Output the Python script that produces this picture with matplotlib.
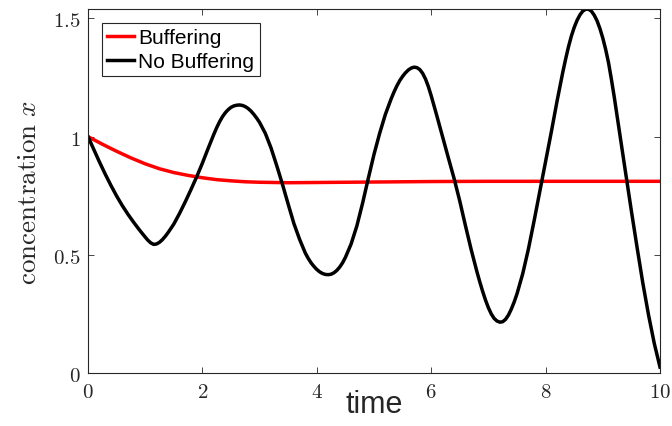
import matplotlib
matplotlib.use("Agg")
import matplotlib.pyplot as plt

plt.rcParams['mathtext.fontset'] = 'cm'

# Buffering (red)
t_buf = [0.0, 0.25, 0.5, 0.75, 1.0, 1.25, 1.5, 1.75, 2.0, 2.25, 2.5, 2.75, 3.0,
         3.5, 4.0, 5.0, 6.0, 7.0, 8.0, 9.0, 10.0]
x_buf = [1.000, 0.968, 0.938, 0.910, 0.885, 0.864, 0.848, 0.836, 0.826, 0.818,
         0.813, 0.809, 0.807, 0.805, 0.806, 0.808, 0.810, 0.811, 0.811, 0.811, 0.811]

# No Buffering (black)
t_nobuf = [0.0, 0.1, 0.2, 0.3, 0.4, 0.5, 0.6, 0.7, 0.8, 0.9,
           1.0, 1.05, 1.1, 1.15, 1.2, 1.25, 1.3, 1.35, 1.4, 1.5,
           1.6, 1.7, 1.8, 1.9, 2.0, 2.1, 2.2, 2.25, 2.3, 2.35,
           2.4, 2.45, 2.5, 2.55, 2.6, 2.65, 2.7, 2.75, 2.8, 2.85,
           2.9, 2.95, 3.0, 3.1, 3.2, 3.3, 3.4, 3.5, 3.6, 3.7,
           3.8, 3.85, 3.9, 3.95, 4.0, 4.05, 4.1, 4.15, 4.2, 4.25,
           4.3, 4.35, 4.4, 4.45, 4.5, 4.6, 4.7, 4.8, 4.9, 5.0,
           5.1, 5.2, 5.3, 5.35, 5.4, 5.45, 5.5, 5.55, 5.6, 5.65,
           5.7, 5.75, 5.8, 5.85, 5.9, 5.95, 6.0, 6.1, 6.2, 6.3,
           6.4, 6.5, 6.6, 6.7, 6.8, 6.85, 6.9, 6.95, 7.0, 7.05,
           7.1, 7.15, 7.2, 7.25, 7.3, 7.35, 7.4, 7.45, 7.5, 7.6,
           7.7, 7.8, 7.9, 8.0, 8.1, 8.2, 8.3, 8.35, 8.4, 8.45,
           8.5, 8.55, 8.6, 8.65, 8.7, 8.75, 8.8, 8.85, 8.9, 8.95,
           9.0, 9.05, 9.1, 9.15, 9.2, 9.3, 9.4, 9.5, 9.6, 9.7,
           9.8, 9.9, 10.0]
x_nobuf = [1.000, 0.946, 0.893, 0.842, 0.794, 0.749, 0.708, 0.671, 0.637, 0.605,
           0.575, 0.561, 0.550, 0.544, 0.546, 0.553, 0.564, 0.578, 0.594, 0.630,
           0.675, 0.724, 0.776, 0.830, 0.888, 0.950, 1.010, 1.038, 1.063, 1.084,
           1.101, 1.114, 1.124, 1.130, 1.133, 1.134, 1.132, 1.127, 1.119, 1.108,
           1.094, 1.078, 1.060, 1.014, 0.952, 0.877, 0.798, 0.714, 0.632, 0.565,
           0.507, 0.485, 0.466, 0.451, 0.438, 0.428, 0.421, 0.417, 0.416, 0.418,
           0.424, 0.434, 0.448, 0.466, 0.489, 0.546, 0.622, 0.718, 0.823, 0.925,
           1.015, 1.095, 1.160, 1.189, 1.215, 1.237, 1.255, 1.270, 1.282, 1.290,
           1.294, 1.292, 1.284, 1.268, 1.244, 1.212, 1.173, 1.087, 0.998, 0.910,
           0.823, 0.727, 0.622, 0.521, 0.428, 0.385, 0.345, 0.308, 0.276, 0.250,
           0.231, 0.220, 0.215, 0.217, 0.227, 0.245, 0.270, 0.300, 0.335, 0.420,
           0.525, 0.645, 0.770, 0.893, 1.020, 1.150, 1.272, 1.328, 1.380, 1.425,
           1.462, 1.492, 1.515, 1.531, 1.539, 1.539, 1.531, 1.514, 1.490, 1.457,
           1.417, 1.369, 1.313, 1.243, 1.168, 1.005, 0.845, 0.685, 0.530, 0.380,
           0.245, 0.125, 0.025]

xticks = [0, 2, 4, 6, 8, 10]
yticks = [0, 0.5, 1, 1.5]
xtick_labels = ['$0$', '$2$', '$4$', '$6$', '$8$', '$10$']
ytick_labels = ['$0$', '$0.5$', '$1$', '$1.5$']

fig = plt.figure(figsize=(6.72, 4.27), dpi=100)
ax = fig.add_axes([88/672, 1 - 374/427, (660-88)/672, (374-10)/427])

ax.plot(t_buf, x_buf, color=(1, 0, 0), lw=2.5, label='Buffering',
        solid_joinstyle='round')
ax.plot(t_nobuf, x_nobuf, color='black', lw=2.5, label='No Buffering',
        solid_joinstyle='round')

ax.set_xlim(0, 10)
ax.set_ylim(0, 1.54)
ax.set_xticks(xticks)
ax.set_xticklabels(xtick_labels)
ax.set_yticks(yticks)
ax.set_yticklabels(ytick_labels)

spine_c = '#262626'
for s in ax.spines.values():
    s.set_color(spine_c)
    s.set_linewidth(0.8)
ax.tick_params(direction='in', length=4, width=0.6, colors=spine_c,
               labelcolor='#262626', labelsize=15, top=True, right=True)
ax.tick_params(axis='x', pad=6)
ax.tick_params(axis='y', pad=5)

ax.set_xlabel('time', fontsize=22, family='Liberation Sans', color='#262626', labelpad=-9)
ax.set_ylabel(r'$\mathrm{concentration}\ x$', fontsize=19.5, color='#262626', labelpad=8)

leg = ax.legend(loc='upper left', bbox_to_anchor=(14/572, 1 - 14/364),
                prop={'family': 'Liberation Sans', 'size': 15},
                frameon=True, fancybox=False, framealpha=1,
                handlelength=1.3, handletextpad=0.2, labelspacing=0.22,
                borderpad=0.25, borderaxespad=0)
leg.get_frame().set_edgecolor('#262626')
leg.get_frame().set_linewidth(0.8)

fig.savefig('out.png', dpi=100)
